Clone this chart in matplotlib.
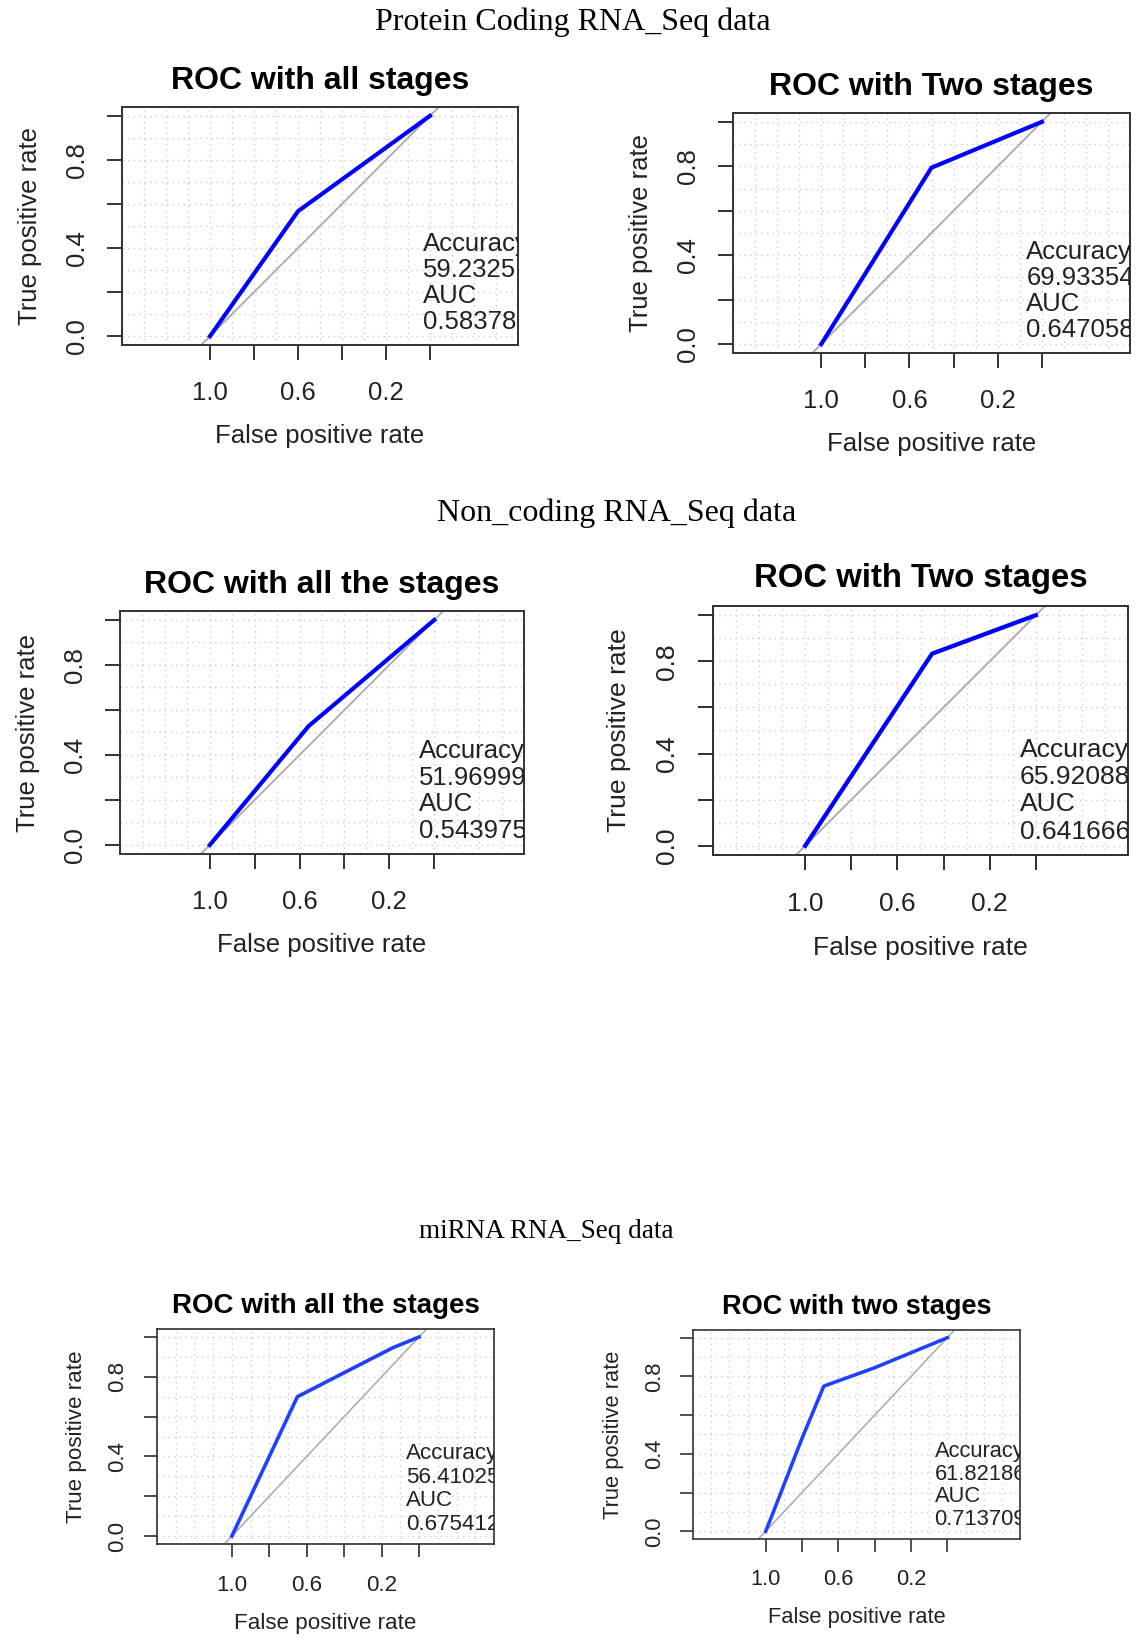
import numpy as np
import matplotlib.pyplot as plt
from matplotlib.ticker import MultipleLocator

W, H = 1141, 1642
DPI = 100

# ROC points (specificity on the reversed x axis, sensitivity on y)
spec_pc_all = [1.0, 0.60, 0.0]
sens_pc_all = [0.0, 0.567, 1.0]
spec_pc_two = [1.0, 0.50, 0.0]
sens_pc_two = [0.0, 0.794, 1.0]
spec_nc_all = [1.0, 0.56, 0.0]
sens_nc_all = [0.0, 0.528, 1.0]
spec_nc_two = [1.0, 0.45, 0.0]
sens_nc_two = [0.0, 0.833, 1.0]
spec_mi_all = [1.0, 0.65, 0.14, 0.0]
sens_mi_all = [0.0, 0.70, 0.946, 1.0]
spec_mi_two = [1.0, 0.97, 0.80, 0.68, 0.40, 0.0]
sens_mi_two = [0.0, 0.07, 0.48, 0.75, 0.845, 1.0]

titles = ["ROC with all stages", "ROC with Two stages",
          "ROC with all the stages", "ROC with Two stages",
          "ROC with all the stages", "ROC with two stages"]
accuracy = ["59.2325", "69.93354", "51.96999", "65.92088", "56.41025", "61.82186"]
auc = ["0.58378", "0.647058", "0.543975", "0.641666", "0.675412", "0.713709"]

sections = ["Protein Coding RNA_Seq data", "Non_coding RNA_Seq data", "miRNA RNA_Seq data"]

# layout: axes boxes in pixels (x0, x1, y0, y1), scale, text x, line colour
panels = [
    ((122, 518, 107, 345), 1.0, 0.03, "#0000ff"),
    ((733, 1130, 113, 353), 1.0, 0.07, "#0000ff"),
    ((120, 524, 611, 854), 1.0, 0.07, "#0000ff"),
    ((713, 1128, 606, 855), 1.03, 0.07, "#0000ff"),
    ((157, 494, 1329, 1544), 0.87, 0.07, "#2040ff"),
    ((693, 1020, 1330, 1539), 0.85, 0.07, "#2040ff"),
]
curves = [(spec_pc_all, sens_pc_all), (spec_pc_two, sens_pc_two),
          (spec_nc_all, sens_nc_all), (spec_nc_two, sens_nc_two),
          (spec_mi_all, sens_mi_all), (spec_mi_two, sens_mi_two)]

plt.rcParams['font.family'] = ['Liberation Sans', 'DejaVu Sans']
fig = plt.figure(figsize=(W / DPI, H / DPI), dpi=DPI)

for i, ((x0, x1, y0, y1), s, tx, col) in enumerate(panels):
    ax = fig.add_axes([x0 / W, 1 - y1 / H, (x1 - x0) / W, (y1 - y0) / H])
    spec, sens = curves[i]
    ax.axline((1, 0), (0, 1), color="#aaaaaa", lw=1.3 * s, zorder=2)
    ax.plot(spec, sens, color=col, lw=3.0 * s, zorder=3)
    ax.set_xlim(1.4, -0.4)
    ax.set_ylim(-0.04, 1.04)

    ax.set_xticks([1.0, 0.8, 0.6, 0.4, 0.2, 0.0])
    ax.set_xticklabels(["1.0", "", "0.6", "", "0.2", ""])
    ax.set_yticks([0.0, 0.2, 0.4, 0.6, 0.8, 1.0])
    ax.set_yticklabels(["0.0", "", "0.4", "", "0.8", ""])
    ax.xaxis.set_minor_locator(MultipleLocator(0.1))
    ax.yaxis.set_minor_locator(MultipleLocator(0.1))
    ax.grid(which="both", linestyle=(0, (1, 3)), color="#cccccc", lw=1.0, zorder=1)
    ax.tick_params(which="minor", length=0)
    ax.tick_params(which="major", direction="out", length=10.8 * s, width=1.4 * s,
                   color="#333333", labelsize=18.5 * s, labelcolor="#222222")
    ax.tick_params(axis="x", pad=15 * s)
    ax.tick_params(axis="y", pad=13 * s, labelrotation=90)
    for lab in ax.get_yticklabels():
        lab.set_va("center")
    for sp in ax.spines.values():
        sp.set_linewidth(1.4 * s)
        sp.set_color("#333333")

    ax.set_xlabel("False positive rate", fontsize=18.5 * s, labelpad=14 * s, color="#222222")
    ax.set_ylabel("True positive rate", fontsize=18.5 * s, labelpad=16.5 * s, color="#222222")
    ax.set_title(titles[i], fontsize=23 * s, fontweight="bold", pad=13.3 * s)

    lines = ["Accuracy", accuracy[i], "AUC", auc[i]]
    for k, t in enumerate(lines):
        ax.text(tx, 0.385 - 0.118 * k, t, fontsize=18.5 * s, color="#222222",
                ha="left", va="baseline", clip_on=True, zorder=4)

head_font = ['Liberation Serif', 'DejaVu Serif']
fig.text(573 / W, 1 - 30 / H, sections[0], ha="center", va="baseline",
         fontsize=23, family=head_font)
fig.text(617 / W, 1 - 521 / H, sections[1], ha="center", va="baseline",
         fontsize=23, family=head_font)
fig.text(546 / W, 1 - 1238 / H, sections[2], ha="center", va="baseline",
         fontsize=19.5, family=head_font)

fig.savefig("out.png", dpi=DPI)
